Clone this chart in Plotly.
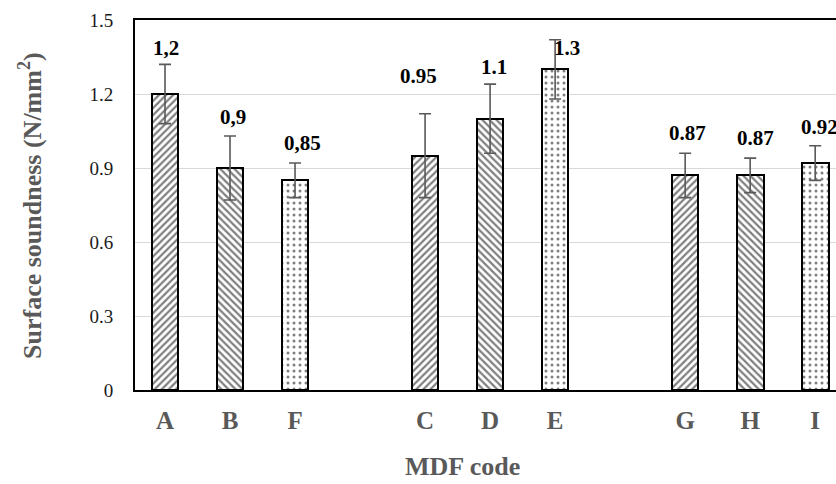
import plotly.graph_objects as go

# Board groups and their MDF codes
groups = [["A", "B", "F"], ["C", "D", "E"], ["G", "H", "I"]]
# Mean surface soundness (N/mm2) and standard deviation per code
values = [1.2, 0.9, 0.85, 0.95, 1.1, 1.3, 0.87, 0.87, 0.92]
errors = [0.12, 0.13, 0.07, 0.17, 0.14, 0.12, 0.09, 0.07, 0.07]
value_labels = ["1,2", "0,9", "0,85", "0.95", "1.1", "1.3", "0.87", "0.87", "0.92"]
y_ticks = [0, 0.3, 0.6, 0.9, 1.2, 1.5]

SERIF = "Liberation Serif, Times New Roman, serif"

# hatch style within each group: forward hatch, back hatch, dots
pattern_cycle = ["/", "\\", "."]
# label nudges in pixels (dx, dy above the error cap)
label_nudge = [(1, 16), (3, 19), (7, 20), (-7, 38), (4, 17), (12, -8), (2, 20), (5, 20), (4, 19)]

codes, xpos, shapes = [], [], []
for g, grp in enumerate(groups):
    for j, code in enumerate(grp):
        codes.append(code)
        xpos.append(g * 4 + j)
        shapes.append(pattern_cycle[j])

fig = go.Figure()
for i in range(len(codes)):
    shp = shapes[i]
    fig.add_trace(go.Bar(
        x=[xpos[i]], y=[values[i]], width=0.41,
        marker=dict(
            color="white",
            line=dict(color="black", width=2),
            pattern=dict(shape=shp, fgcolor="black", bgcolor="white",
                         size=6 if shp == "." else 5,
                         solidity=0.2 if shp == "." else 0.45),
        ),
        error_y=dict(type="data", array=[errors[i]], visible=True,
                     color="#595959", thickness=1.6, width=6),
        showlegend=False,
    ))

annotations = []
for i in range(len(codes)):
    dx, dy = label_nudge[i]
    annotations.append(dict(
        x=xpos[i], y=values[i] + errors[i], xref="x", yref="y",
        text=f"<b>{value_labels[i]}</b>", showarrow=False,
        xanchor="center", yanchor="middle", xshift=dx, yshift=dy,
        font=dict(family=SERIF, size=21, color="black"),
    ))

annotations.append(dict(
    x=-0.1498, y=0.5, xref="paper", yref="paper", textangle=-90,
    text="<b>Surface soundness (N/mm<sup>2</sup>)</b>", showarrow=False,
    xanchor="center", yanchor="middle",
    font=dict(family=SERIF, size=26, color="#595959"),
))
annotations.append(dict(
    x=0.4665, y=-0.208, xref="paper", yref="paper",
    text="<b>MDF code</b>", showarrow=False, xanchor="center", yanchor="middle",
    font=dict(family=SERIF, size=26, color="#595959"),
))

fig.update_layout(
    width=836, height=484,
    margin=dict(l=135, r=0, t=20, b=94),
    paper_bgcolor="white", plot_bgcolor="white",
    bargap=0, barmode="overlay",
    annotations=annotations,
    xaxis=dict(
        range=[-0.4615, 10.32], tickmode="array", tickvals=xpos,
        ticktext=[f"<b>{c}</b>" for c in codes],
        showgrid=False, zeroline=False,
        showline=True, linecolor="black", linewidth=2, mirror=True,
        ticks="outside", ticklen=7, tickcolor="rgba(0,0,0,0)",
        tickfont=dict(family=SERIF, size=25, color="#595959"),
    ),
    yaxis=dict(
        range=[0, 1.5], tickmode="array", tickvals=y_ticks,
        ticktext=[f"{t:g}" for t in y_ticks],
        showgrid=True, gridcolor="#d9d9d9", gridwidth=1.3, zeroline=False,
        showline=True, linecolor="black", linewidth=2,
        ticks="outside", ticklen=16, tickcolor="rgba(0,0,0,0)",
        tickfont=dict(family=SERIF, size=19, color="#1a1a1a"),
    ),
)

fig.write_html("out.html")
